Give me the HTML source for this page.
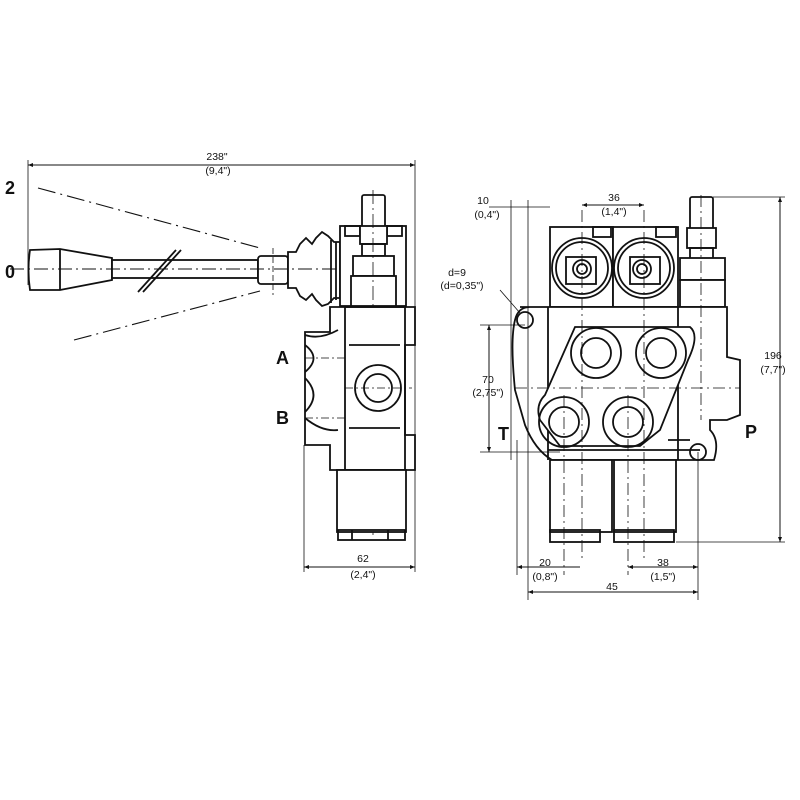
<!DOCTYPE html>
<html><head><meta charset="utf-8"><style>
html,body{margin:0;padding:0;background:#fff;}
svg{display:block}
text{font-family:"Liberation Sans",sans-serif;fill:#111}
</style></head><body>
<svg width="800" height="800" viewBox="0 0 800 800" xmlns="http://www.w3.org/2000/svg">
<defs>
<marker id="ar" viewBox="0 0 10 10" refX="10" refY="5" markerWidth="7" markerHeight="5" orient="auto-start-reverse"><path d="M0,1 L10,5 L0,9z" fill="#111"/></marker>
</defs>
<g fill="none" stroke="#111" stroke-width="1.8">
<!-- LEFT VIEW dims -->
<line x1="28" y1="165" x2="415" y2="165" stroke-width="1" marker-start="url(#ar)" marker-end="url(#ar)"/>
<line x1="28" y1="160" x2="28" y2="285" stroke-width="0.8"/>
<line x1="415" y1="160" x2="415" y2="460" stroke-width="0.8"/>
<line x1="38" y1="188" x2="260" y2="248" stroke-width="1.1" stroke-dasharray="18,5,2,5"/>
<line x1="74" y1="340" x2="260" y2="291" stroke-width="1.1" stroke-dasharray="18,5,2,5"/>
<!-- handle -->
<path d="M30,250 L60,249 L112,258 L112,280 L60,290 L30,290 Q27,270 30,250Z" fill="#fff"/>
<line x1="60" y1="249" x2="60" y2="290"/>
<rect x="112" y="260" width="146" height="18" fill="#fff"/>
<line x1="138" y1="292" x2="176" y2="250"/><line x1="143" y1="292" x2="181" y2="250"/>
<rect x="258" y="256" width="30" height="28" rx="3" fill="#fff"/>
<path d="M288,252 L296,252 L300,244 L306,238 L312,244 L316,238 L322,232 L328,236 L334,242 L340,242 L340,298 L334,298 L328,304 L322,306 L316,300 L312,294 L306,300 L300,296 L296,288 L288,288Z" fill="#fff"/>
<line x1="331" y1="240" x2="331" y2="303"/><line x1="336" y1="242" x2="336" y2="300"/>
<line x1="10" y1="269" x2="345" y2="269" stroke-width="0.9" stroke-dasharray="14,4,2,4"/>
<line x1="273" y1="248" x2="273" y2="295" stroke-width="0.8" stroke-dasharray="6,3"/>
<!-- top part -->
<rect x="340" y="226" width="66" height="80" fill="#fff"/>
<rect x="345" y="226" width="15" height="10"/><rect x="387" y="226" width="15" height="10"/>
<rect x="362" y="195" width="23" height="35" rx="2" fill="#fff"/>
<rect x="360" y="226" width="27" height="18" fill="#fff"/>
<rect x="362" y="244" width="23" height="12"/>
<rect x="353" y="256" width="41" height="20" fill="#fff"/>
<rect x="351" y="276" width="45" height="30" fill="#fff"/>
<line x1="373" y1="190" x2="373" y2="535" stroke-width="0.8" stroke-dasharray="14,4,2,4"/>
<!-- body -->
<path d="M330,307 L415,307 L415,345 L405,345 L405,435 L415,435 L415,470 L330,470 L330,445 L305,445 L305,332 L330,332Z" fill="#fff"/>
<path d="M305,335 Q320,340 338,330 M305,345 Q322,358 305,372 M305,378 Q322,395 305,412 M305,418 Q322,432 338,430" />
<rect x="345" y="307" width="60" height="163"/>
<line x1="349" y1="345" x2="400" y2="345"/><line x1="349" y1="428" x2="400" y2="428"/>
<circle cx="378" cy="388" r="23" fill="#fff"/><circle cx="378" cy="388" r="14"/>
<line x1="305" y1="358" x2="345" y2="358" stroke-width="0.8" stroke-dasharray="8,3,2,3"/>
<line x1="305" y1="418" x2="345" y2="418" stroke-width="0.8" stroke-dasharray="8,3,2,3"/>
<line x1="345" y1="388" x2="412" y2="388" stroke-width="0.8" stroke-dasharray="8,3,2,3"/>
<rect x="337" y="470" width="69" height="62" fill="#fff"/>
<rect x="338" y="530" width="67" height="10"/><line x1="352" y1="530" x2="352" y2="540"/><line x1="388" y1="530" x2="388" y2="540"/>
<line x1="304" y1="445" x2="304" y2="572" stroke-width="0.8"/>
<line x1="304" y1="567" x2="415" y2="567" stroke-width="1" marker-start="url(#ar)" marker-end="url(#ar)"/>
<line x1="415" y1="460" x2="415" y2="572" stroke-width="0.8"/>

<!-- RIGHT VIEW -->
<rect x="550" y="227" width="63" height="80" fill="#fff"/>
<rect x="613" y="227" width="65" height="80" fill="#fff"/>
<rect x="593" y="227" width="18" height="10"/><rect x="656" y="227" width="20" height="10"/>
<circle cx="582" cy="268" r="30"/><circle cx="582" cy="268" r="26"/>
<circle cx="644" cy="268" r="30"/><circle cx="644" cy="268" r="26"/>
<rect x="566" y="257" width="30" height="27"/><rect x="630" y="257" width="30" height="27"/>
<circle cx="582" cy="269" r="9"/><circle cx="582" cy="269" r="5"/>
<circle cx="642" cy="269" r="9"/><circle cx="642" cy="269" r="5"/>
<rect x="690" y="197" width="23" height="32" rx="2" fill="#fff"/>
<rect x="687" y="228" width="29" height="20" fill="#fff"/>
<rect x="690" y="248" width="23" height="12"/>
<rect x="680" y="258" width="45" height="22" fill="#fff"/>
<rect x="680" y="280" width="45" height="27" fill="#fff"/>
<!-- body -->
<path d="M520,307 L727,307 L727,357 L740,360 L740,415 L727,420 L710,420 L710,430 Q720,440 714,460 L552,460 Q535,450 525,425 L515,390 Q510,340 515,320 Q518,307 530,307Z" fill="#fff"/>
<circle cx="525" cy="320" r="8"/><circle cx="698" cy="452" r="8"/>
<line x1="548" y1="307" x2="548" y2="460"/><line x1="678" y1="307" x2="678" y2="460"/><line x1="668" y1="440" x2="690" y2="440"/>
<line x1="548" y1="450" x2="700" y2="450"/>
<path d="M575,327 L690,327 Q700,335 688,360 L660,430 L640,446 L560,446 L540,420 Q535,405 545,395 Z" fill="#fff"/>
<circle cx="596" cy="353" r="25"/><circle cx="596" cy="353" r="15"/>
<circle cx="661" cy="353" r="25"/><circle cx="661" cy="353" r="15"/>
<circle cx="564" cy="422" r="25"/><circle cx="564" cy="422" r="15"/>
<circle cx="628" cy="422" r="25"/><circle cx="628" cy="422" r="15"/>
<line x1="515" y1="388" x2="740" y2="388" stroke-width="0.8" stroke-dasharray="12,4,2,4"/>
<rect x="550" y="460" width="62" height="72" fill="#fff"/>
<rect x="614" y="460" width="62" height="72" fill="#fff"/>
<rect x="550" y="530" width="50" height="12"/><rect x="614" y="530" width="60" height="12"/>
<g stroke-width="0.8" stroke-dasharray="12,4,2,4">
<line x1="582" y1="210" x2="582" y2="560"/><line x1="644" y1="210" x2="644" y2="560"/>
<line x1="701" y1="195" x2="701" y2="420"/>
<line x1="564" y1="395" x2="564" y2="575"/><line x1="628" y1="395" x2="628" y2="575"/>
</g>
<!-- dims right -->
<g stroke-width="0.8">
<line x1="511" y1="200" x2="511" y2="460"/><line x1="528" y1="200" x2="528" y2="600"/>
<line x1="517" y1="440" x2="517" y2="575"/><line x1="698" y1="452" x2="698" y2="600"/>
<line x1="480" y1="325" x2="525" y2="325"/><line x1="480" y1="452" x2="560" y2="452"/>
<line x1="713" y1="197" x2="785" y2="197"/><line x1="676" y1="542" x2="785" y2="542"/>
<line x1="489" y1="207" x2="550" y2="207"/>
<line x1="500" y1="290" x2="520" y2="313"/>
</g>
<g stroke-width="1">
<line x1="582" y1="205" x2="644" y2="205" marker-start="url(#ar)" marker-end="url(#ar)"/>
<line x1="489" y1="325" x2="489" y2="452" marker-start="url(#ar)" marker-end="url(#ar)"/>
<line x1="780" y1="197" x2="780" y2="542" marker-start="url(#ar)" marker-end="url(#ar)"/>
<line x1="517" y1="567" x2="580" y2="567" marker-start="url(#ar)"/>
<line x1="628" y1="567" x2="698" y2="567" marker-start="url(#ar)" marker-end="url(#ar)"/>
<line x1="528" y1="592" x2="698" y2="592" marker-start="url(#ar)" marker-end="url(#ar)"/>
</g>
</g>
<g font-size="10.5" text-anchor="middle">
<text x="217" y="160">238"</text><text x="218" y="174">(9,4")</text>
<text x="363" y="562">62</text><text x="363" y="578">(2,4")</text>
<text x="483" y="204">10</text><text x="487" y="218">(0,4")</text>
<text x="614" y="201">36</text><text x="614" y="215">(1,4")</text>
<text x="457" y="276">d=9</text><text x="462" y="289">(d=0,35")</text>
<text x="488" y="383">70</text><text x="488" y="396">(2,75")</text>
<text x="773" y="359">196</text><text x="773" y="373">(7,7")</text>
<text x="545" y="566">20</text><text x="545" y="580">(0,8")</text>
<text x="663" y="566">38</text><text x="663" y="580">(1,5")</text>
<text x="612" y="590">45</text>
</g>
<g font-size="18" font-weight="bold">
<text x="5" y="194">2</text><text x="5" y="278">0</text>
<text x="276" y="364">A</text><text x="276" y="424">B</text>
<text x="498" y="440">T</text><text x="745" y="438">P</text>
</g>
</svg>
</body></html>
